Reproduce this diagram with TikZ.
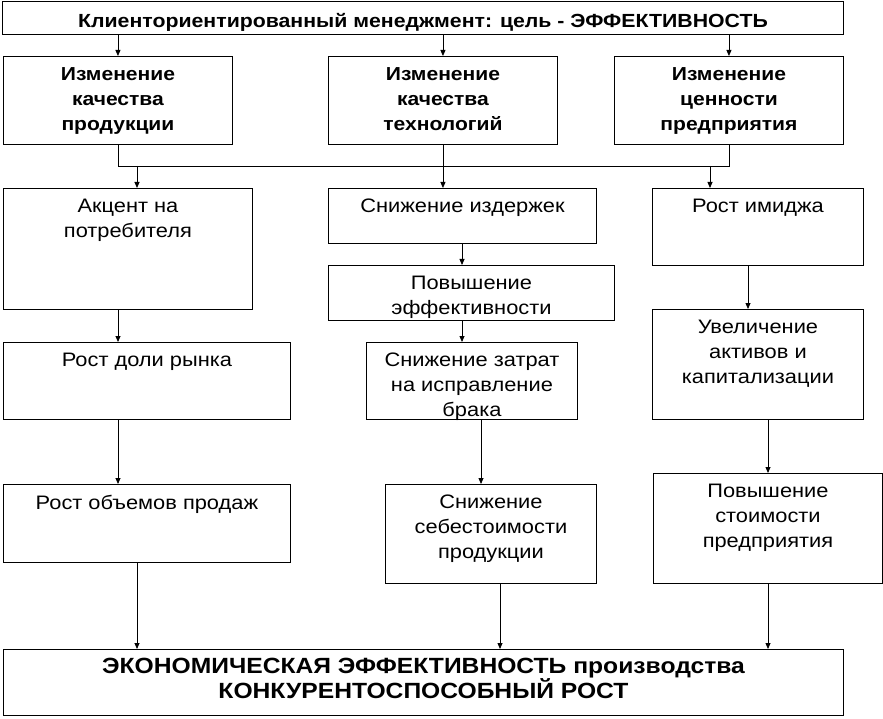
\documentclass[tikz,border=0pt]{standalone}
\usepackage{fontspec}
\setmainfont[FakeStretch=1.12]{Liberation Sans}
\usetikzlibrary{arrows.meta, positioning}

\begin{document}
\begin{tikzpicture}[
    x=1pt, y=-1pt,
    box/.style={draw=black, line width=0.9pt, anchor=north west, inner sep=0pt},
    txt/.style={anchor=north, align=center, inner sep=0pt, yshift=-11pt, font=\fontsize{19.5}{25}\selectfont},
    btxt/.style={txt, font=\fontsize{18.8}{25}\selectfont\bfseries},
    ftxt/.style={txt, yshift=2pt, font=\fontsize{22}{25}\selectfont\bfseries},
    edge/.style={-{Triangle[length=6pt, width=5pt]}, line width=0.8pt},
    line/.style={line width=0.8pt}
]
\useasboundingbox (0,0) rectangle (883,719);

% goal
\node[box, minimum width=841, minimum height=33, label={[btxt, yshift=-1pt, font=\fontsize{19}{25}\selectfont\bfseries]north:{Клиенториентированный менеджмент: цель - ЭФФЕКТИВНОСТЬ}}] (goal) at (2,1) {};

% changes
\node[box, minimum width=229, minimum height=88, label={[btxt]north:{Изменение\\качества\\продукции}}] (izm1) at (3,56) {};
\node[box, minimum width=229, minimum height=88, label={[btxt]north:{Изменение\\качества\\технологий}}] (izm2) at (328,56) {};
\node[box, minimum width=229, minimum height=88, label={[btxt]north:{Изменение\\ценности\\предприятия}}] (izm3) at (614,56) {};

% left column
\node[box, minimum width=249, minimum height=121, label={[txt]north:{Акцент на\\потребителя}}] (akcent) at (3,188) {};
\node[box, minimum width=287, minimum height=77, label={[txt]north:{Рост доли рынка}}] (dolya) at (3,342) {};
\node[box, minimum width=287, minimum height=78, label={[txt]north:{Рост объемов продаж}}] (obem) at (3,484) {};

% middle column
\node[box, minimum width=268, minimum height=55, label={[txt]north:{Снижение издержек}}] (izderzh) at (328,188) {};
\node[box, minimum width=286, minimum height=55, label={[txt]north:{Повышение\\эффективности}}] (povysh) at (328,265) {};
\node[box, minimum width=211, minimum height=77, label={[txt]north:{Снижение затрат\\на исправление\\брака}}] (zatrat) at (366,342) {};
\node[box, minimum width=211, minimum height=99, label={[txt]north:{Снижение\\себестоимости\\продукции}}] (sebest) at (385,484) {};

% right column
\node[box, minimum width=211, minimum height=77, label={[txt]north:{Рост имиджа}}] (imidzh) at (652,188) {};
\node[box, minimum width=211, minimum height=110, label={[txt]north:{Увеличение\\активов и\\капитализации}}] (aktiv) at (652,309) {};
\node[box, minimum width=229, minimum height=110, label={[txt]north:{Повышение\\стоимости\\предприятия}}] (stoim) at (653,473) {};

% result
\node[box, minimum width=840, minimum height=66, label={[ftxt]north:{ЭКОНОМИЧЕСКАЯ ЭФФЕКТИВНОСТЬ производства\\КОНКУРЕНТОСПОСОБНЫЙ РОСТ}}] (final) at (3,649) {};

% goal -> changes
\draw[edge] (goal.south -| izm1.north) -- (izm1.north);
\draw[edge] (goal.south -| izm2.north) -- (izm2.north);
\draw[edge] (goal.south -| izm3.north) -- (izm3.north);

% collecting line
\coordinate (bus) at (0,166);
\draw[line] (izm1.south) |- (izm3.south |- bus) -- (izm3.south);
\draw[line] (izm2.south) -- (izm2.south |- bus);
\draw[edge] (bus -| 137,0) -- (akcent.north -| 137,0);
\draw[edge] (bus -| izm2.south) -- (izderzh.north -| izm2.south);
\draw[edge] (bus -| 710,0) -- (imidzh.north -| 710,0);

% left chain
\draw[edge] (akcent.south -| 118,0) -- (dolya.north -| 118,0);
\draw[edge] (dolya.south -| 118,0) -- (obem.north -| 118,0);
\draw[edge] (obem.south -| 137,0) -- (final.north -| 137,0);

% middle chain
\draw[edge] (izderzh.south -| 462,0) -- (povysh.north -| 462,0);
\draw[edge] (povysh.south -| 462,0) -- (zatrat.north -| 462,0);
\draw[edge] (zatrat.south -| 481,0) -- (sebest.north -| 481,0);
\draw[edge] (sebest.south -| 500,0) -- (final.north -| 500,0);

% right chain
\draw[edge] (imidzh.south -| 748,0) -- (aktiv.north -| 748,0);
\draw[edge] (aktiv.south -| 768,0) -- (stoim.north -| 768,0);
\draw[edge] (stoim.south -| 768,0) -- (final.north -| 768,0);

\end{tikzpicture}
\end{document}
